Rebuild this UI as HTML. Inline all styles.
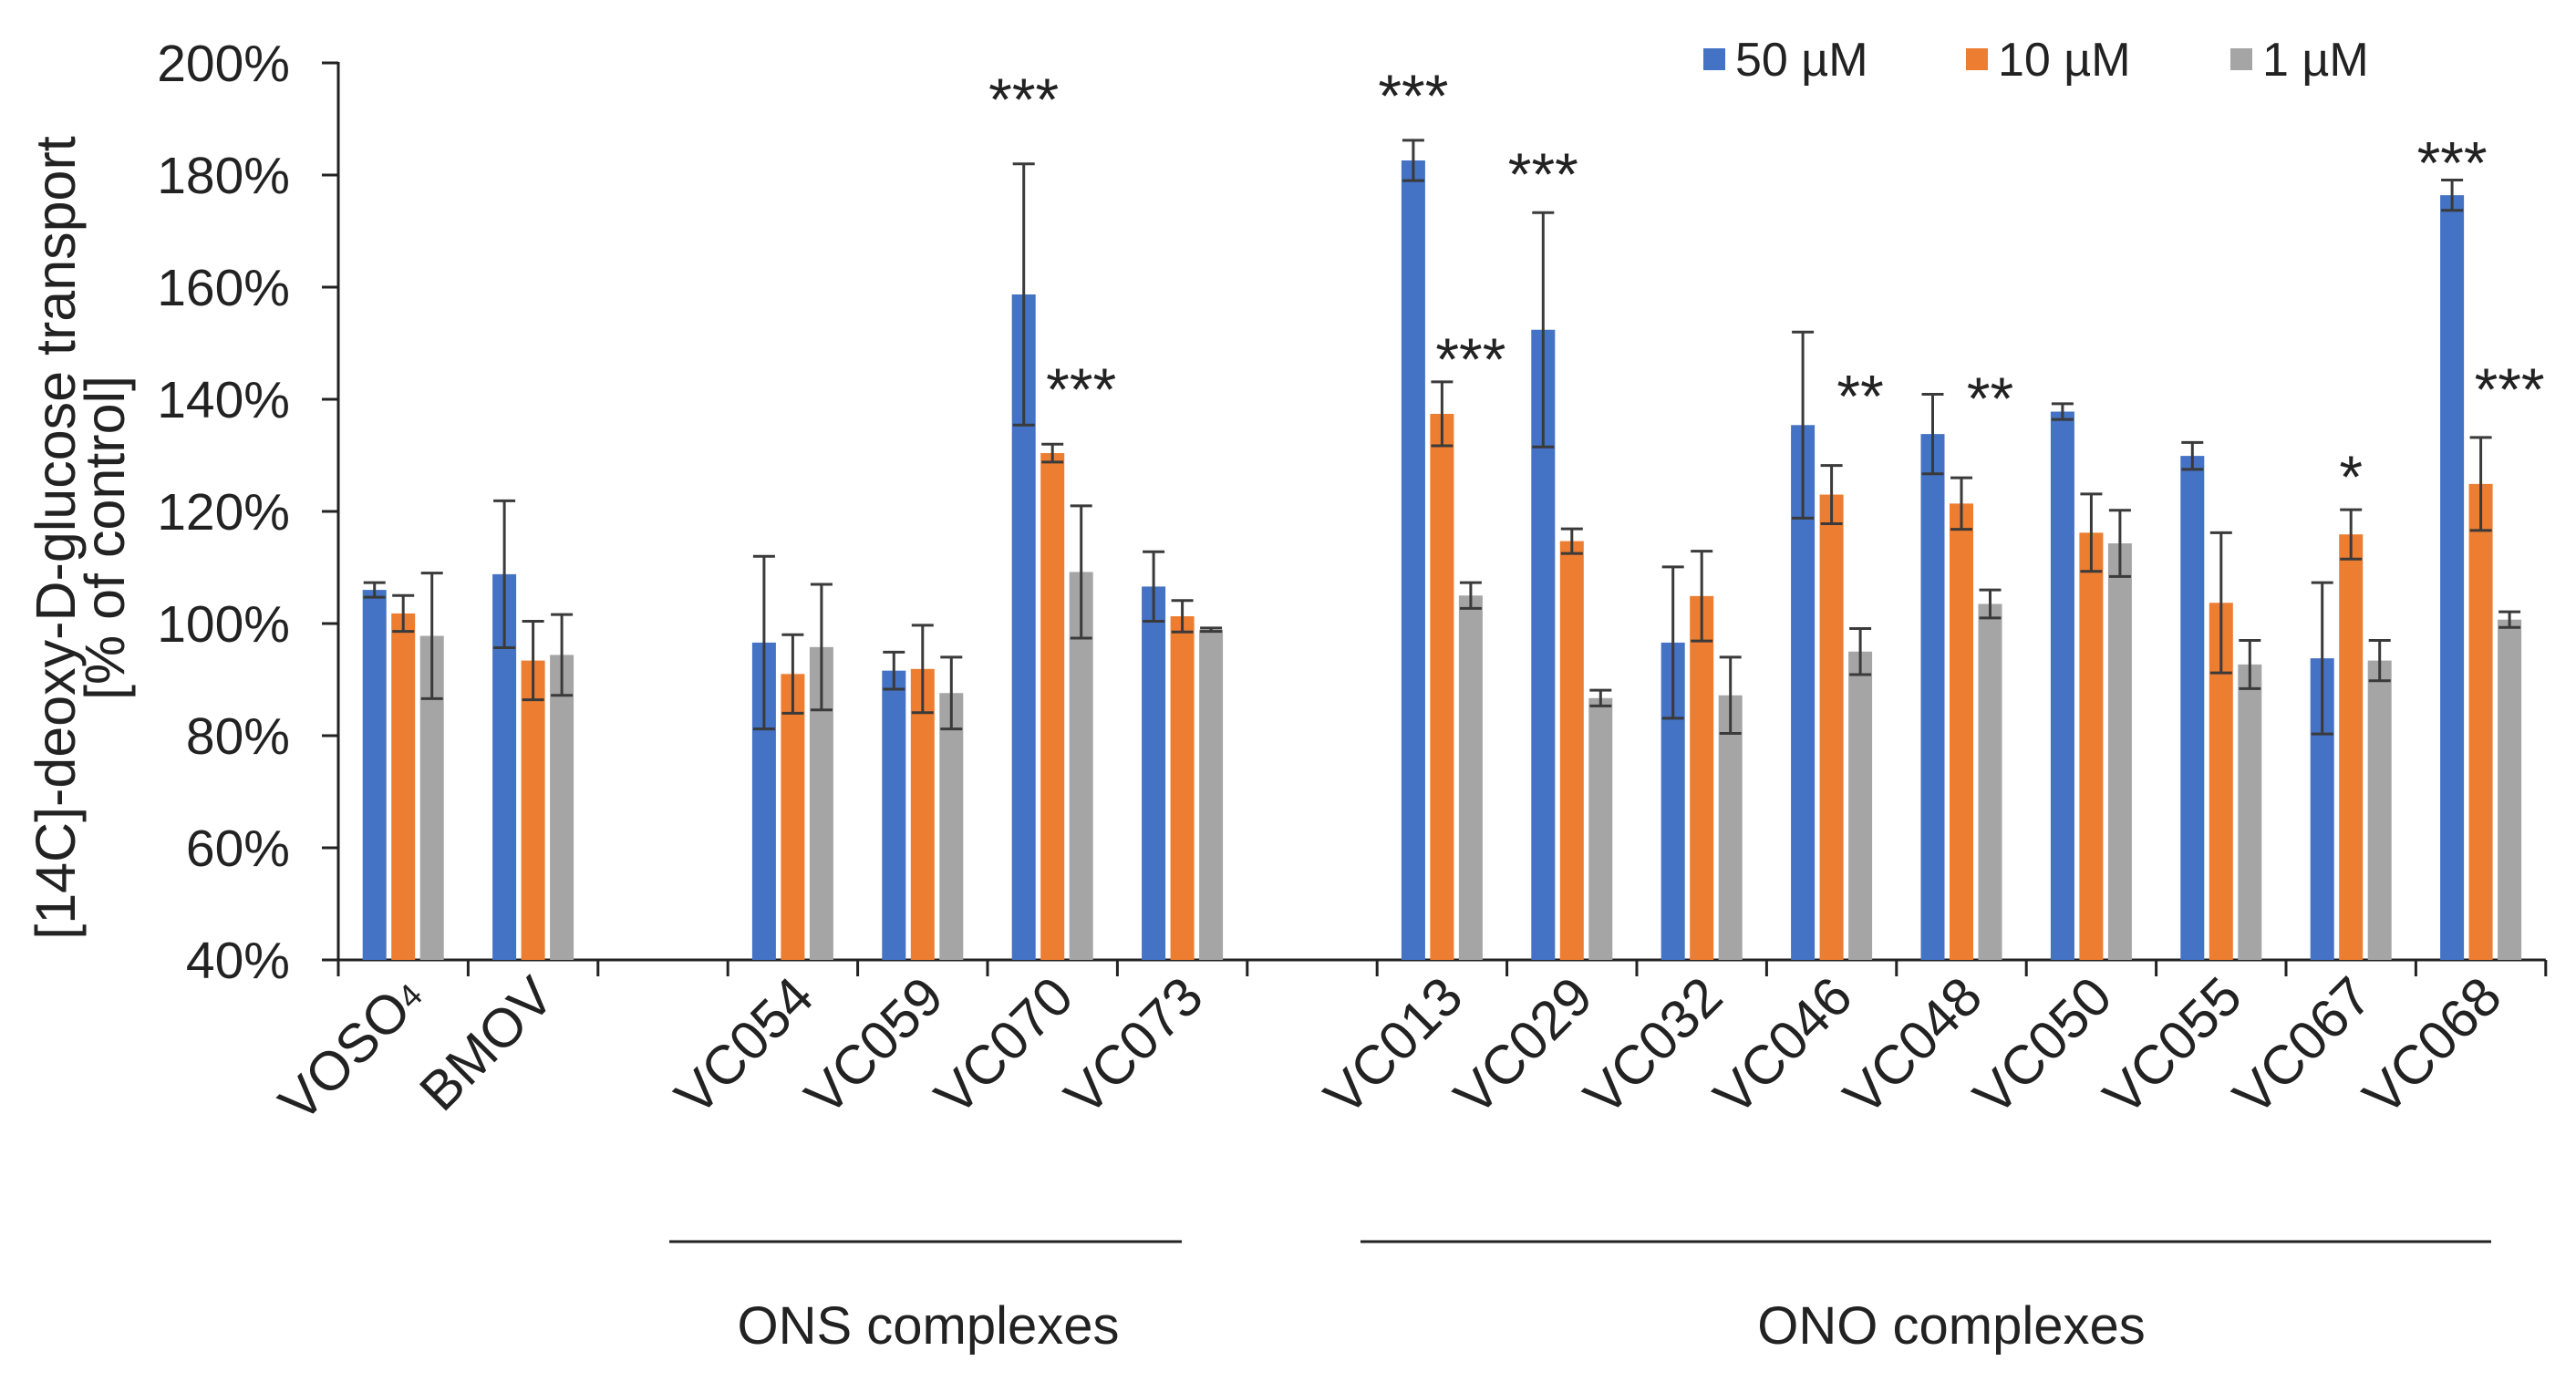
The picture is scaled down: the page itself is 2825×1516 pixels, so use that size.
<!DOCTYPE html>
<html><head><meta charset="utf-8">
<style>
html,body{margin:0;padding:0;background:#fff;}
svg{display:block;font-family:"Liberation Sans",Arial,sans-serif;}
</style></head>
<body>
<svg id="chart" width="2825" height="1516" viewBox="0 0 2825 1516" xmlns="http://www.w3.org/2000/svg">
  <g id="yaxis-title" font-size="61" fill="#222" text-anchor="middle">
    <text transform="translate(82,590) rotate(-90)">[14C]-deoxy-D-glucose transport</text>
    <text transform="translate(136,590) rotate(-90)">[% of control]</text>
  </g>
  <g id="plot"></g>
  <g id="legend" font-size="52" fill="#222">
    <rect x="1868" y="53" width="24" height="24" fill="#4472C4"/>
    <text x="1903" y="83">50 µM</text>
    <rect x="2156" y="53" width="24" height="24" fill="#ED7D31"/>
    <text x="2191" y="83">10 µM</text>
    <rect x="2446" y="53" width="24" height="24" fill="#A5A5A5"/>
    <text x="2481" y="83">1 µM</text>
  </g>
  <g font-size="58" fill="#222" text-anchor="middle">
    <line x1="734" y1="1362" x2="1296" y2="1362" stroke="#222" stroke-width="3"/>
    <text x="1018" y="1474">ONS complexes</text>
    <line x1="1492" y1="1362" x2="2732" y2="1362" stroke="#222" stroke-width="3"/>
    <text x="2140" y="1474">ONO complexes</text>
  </g>
</svg>
<script>
const categories = ["VOSO4","BMOV","","VC054","VC059","VC070","VC073","","VC013","VC029","VC032","VC046","VC048","VC050","VC055","VC067","VC068"];
const values50 = [106,108.8,null,96.6,91.6,158.7,106.6,null,182.6,152.4,96.6,135.4,133.8,137.8,129.9,93.8,176.4];
const values10 = [101.8,93.4,null,91,91.9,130.4,101.3,null,137.4,114.7,104.9,123,121.4,116.2,103.7,115.9,124.9];
const values1  = [97.8,94.4,null,95.8,87.6,109.2,98.9,null,105,86.7,87.2,95,103.5,114.3,92.7,93.4,100.7];
const err50 = [1.3,13.1,null,15.4,3.3,23.3,6.2,null,3.6,20.9,13.5,16.6,7.1,1.4,2.4,13.5,2.7];
const err10 = [3.2,7,null,7,7.8,1.6,2.8,null,5.7,2.2,8,5.2,4.6,6.9,12.5,4.4,8.3];
const err1  = [11.2,7.2,null,11.2,6.4,11.8,0.3,null,2.3,1.4,6.8,4.1,2.5,5.9,4.3,3.6,1.4];
const yTicks = [40,60,80,100,120,140,160,180,200];
const yTickLabels = ["40%","60%","80%","100%","120%","140%","160%","180%","200%"];
const annCategory = [5,5,8,8,9,11,12,15,16,16];
const annSeries   = [0,2,0,2,0,2,2,1,0,2];
const annLevel    = [194.3,142.6,195,148,181,141.4,141,127,183,142.6];
const annText     = ["***","***","***","***","***","**","**","*","***","***"];

const X0=371, SLOT=142.4, Y0=1053, YTOP=69, VMIN=40, VMAX=200, PITCH=31.5, BW=26;
const colors=["#4472C4","#ED7D31","#A5A5A5"];
const series=[values50,values10,values1];
const errs=[err50,err10,err1];
const NS="http://www.w3.org/2000/svg";
function y(v){return Y0-(v-VMIN)*(Y0-YTOP)/(VMAX-VMIN);}
function xc(i){return X0+(i+0.5)*SLOT;}
function mk(tag,attrs,parent){const e=document.createElementNS(NS,tag);for(const k in attrs)e.setAttribute(k,attrs[k]);parent.appendChild(e);return e;}
const plot=document.getElementById('plot');

const ya=mk('line',{x1:X0,y1:YTOP-1,x2:X0,y2:Y0+1,stroke:'#222','stroke-width':3},plot);


yTicks.forEach((t,k)=>{
  const tk=mk('line',{x1:X0-18,y1:y(t),x2:X0,y2:y(t),stroke:'#222','stroke-width':3},plot);
  
  
  const tl=mk('text',{x:318,y:y(t)+20,'font-size':57,'text-anchor':'end',fill:'#222'},plot);
  tl.textContent=yTickLabels[k];
  
  
});
const xend=X0+categories.length*SLOT;
const xa=mk('line',{x1:X0,y1:Y0,x2:xend,y2:Y0,stroke:'#222','stroke-width':3},plot);


for(let i=0;i<=categories.length;i++){
  const tx=X0+i*SLOT;
  const tk=mk('line',{x1:tx,y1:Y0,x2:tx,y2:Y0+18,stroke:'#222','stroke-width':3},plot);
  
  
}
categories.forEach((c,i)=>{
  if(!c)return;
  series.forEach((s,j)=>{
    const v=s[i]; if(v==null)return;
    const cx=xc(i)+(j-1)*PITCH;
    const r=mk('rect',{x:cx-BW/2,y:y(v),width:BW,height:Y0-y(v),fill:colors[j]},plot);
    
    
    const e=errs[j][i];
    const g=mk('g',{stroke:'#3a3a3a','stroke-width':3},plot);
    
    
    mk('line',{x1:cx,y1:y(v+e),x2:cx,y2:y(v-e)},g);
    mk('line',{x1:cx-12,y1:y(v+e),x2:cx+12,y2:y(v+e)},g);
    mk('line',{x1:cx-12,y1:y(v-e),x2:cx+12,y2:y(v-e)},g);
  });
  const lx=xc(i)+26, ly=Y0+44;
  const lab=mk('text',{x:lx,y:ly,'font-size':60,'text-anchor':'end',fill:'#222',transform:`rotate(-45 ${lx} ${ly})`},plot);
  if(c==="VOSO4"){lab.textContent="VOSO";const sub=mk('tspan',{'font-size':36,dy:-4},lab);sub.textContent="4";}
  else lab.textContent=c;
  
  
});
annText.forEach((t,k)=>{
  const cx=xc(annCategory[k])+(annSeries[k]-1)*PITCH;
  const a=mk('text',{x:cx,y:y(annLevel[k])+28,'font-size':66,'text-anchor':'middle',fill:'#222'},plot);
  a.textContent=t;
  
  
});
</script>
</body></html>
